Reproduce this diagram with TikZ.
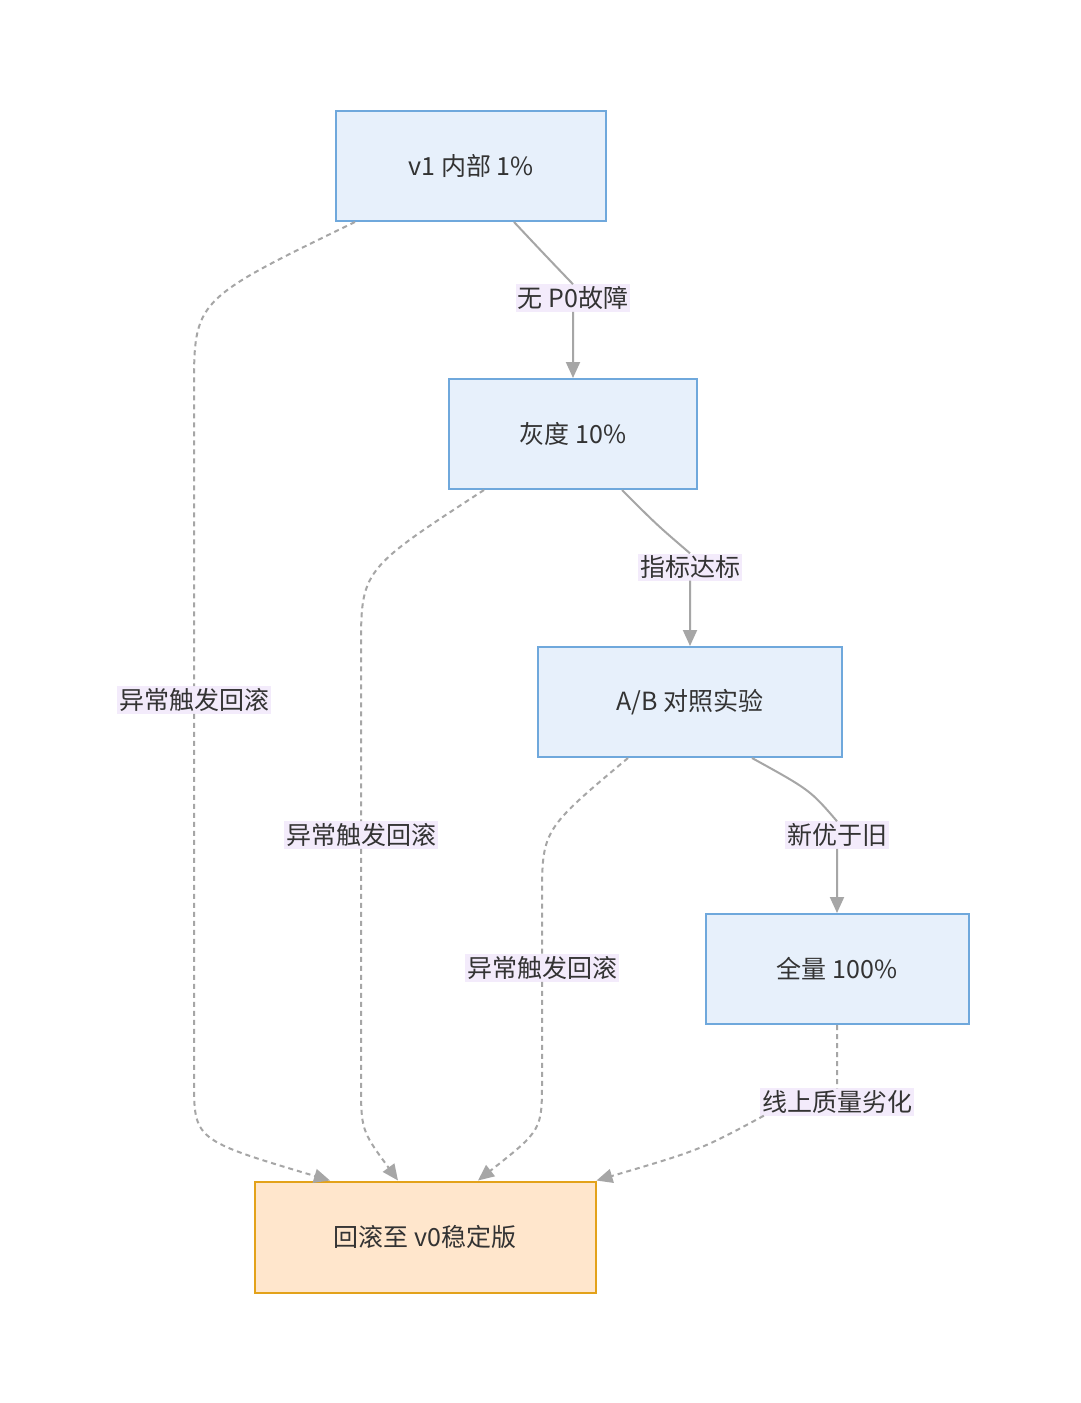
\documentclass[tikz,border=0pt]{standalone}
\usepackage{fontspec}
\setmainfont{Noto Sans CJK SC}
\usetikzlibrary{calc,arrows.meta}
\definecolor{stepfill}{HTML}{E7F0FB}
\definecolor{stepdraw}{HTML}{6FA8DC}
\definecolor{backfill}{HTML}{FFE6CC}
\definecolor{backdraw}{HTML}{E3A21A}
\definecolor{tagfill}{HTML}{F3EBFB}
\definecolor{edgegray}{HTML}{A6A6A6}
\definecolor{textgray}{HTML}{333333}
\tikzset{
  stage/.style = {draw=stepdraw, fill=stepfill, line width=2pt, text=textgray},
  back/.style = {draw=backdraw, fill=backfill, line width=2pt, text=textgray},
  tag/.style = {fill=tagfill, text=textgray, inner sep=2pt},
  go/.style = {draw=edgegray, line width=2pt, -{Triangle[length=16pt,width=14pt]}},
  fail/.style = {go, dash pattern=on 5pt off 4pt}
}
\begin{document}
\begin{tikzpicture}[x=1pt, y=-1pt, font=\fontsize{25}{30}\selectfont]

  \useasboundingbox[fill=white] (0,0) rectangle (1080,1403);

  % stages
  \node[stage, minimum width=270pt, minimum height=110pt] (v1) at (471,166) {v1 内部 1\%};
  \node[stage, minimum width=248pt, minimum height=110pt] (gray) at (573,434) {灰度 10\%};
  \node[stage, minimum width=304pt, minimum height=110pt] (ab) at (690,702) {A/B 对照实验};
  \node[stage, minimum width=263pt, minimum height=110pt] (full) at (837,969) {全量 100\%};
  \node[back, minimum width=341pt, minimum height=111pt] (v0) at (425,1237) {回滚至 v0稳定版};

  % labels
  \node[tag] (t1) at (573,298) {无 P0故障};
  \node[tag] (t2) at (690,567) {指标达标};
  \node[tag] (t3) at (837,835) {新优于旧};
  \node[tag] (t4) at (837,1102) {线上质量劣化};
  \node[tag] (r1) at (194,700) {异常触发回滚};
  \node[tag] (r2) at (361,835) {异常触发回滚};
  \node[tag] (r3) at (542,968) {异常触发回滚};

  % forward path
  \draw[go] ($(v1.south)+(43,0)$) .. controls (545,255) .. (t1.north)
            (t1.south) .. controls (573,345) .. (gray.north);
  \draw[go] ($(gray.south)+(49,0)$) .. controls (657,525) .. (t2.north)
            (t2.south) .. controls (690,615) .. (ab.north);
  \draw[go] ($(ab.south)+(62,0)$) .. controls (810,790) .. (t3.north)
            (t3.south) .. controls (837,880) .. (full.north);

  % rollback
  \draw[fail] ($(v1.south)+(-116,0)$) .. controls (194,300) .. (194,390)
              -- (r1.north) (r1.south) -- (194,1080) .. controls (194,1140) .. ($(v0.north)+(-95,0)$);
  \draw[fail] ($(gray.south)+(-89,0)$) .. controls (361,570) .. (361,650)
              -- (r2.north) (r2.south) -- (361,1080) .. controls (361,1130) .. ($(v0.north)+(-27,0)$);
  \draw[fail] ($(ab.south)+(-62,0)$) .. controls (542,830) .. (542,900)
              -- (r3.north) (r3.south) -- (542,1080) .. controls (542,1130) .. ($(v0.north)+(53,0)$);
  \draw[fail] (full.south) .. controls (837,1060) .. (t4.north)
              ($(t4.south west)+(4,0)$) .. controls (700,1150) .. (v0.north east);

\end{tikzpicture}
\end{document}
